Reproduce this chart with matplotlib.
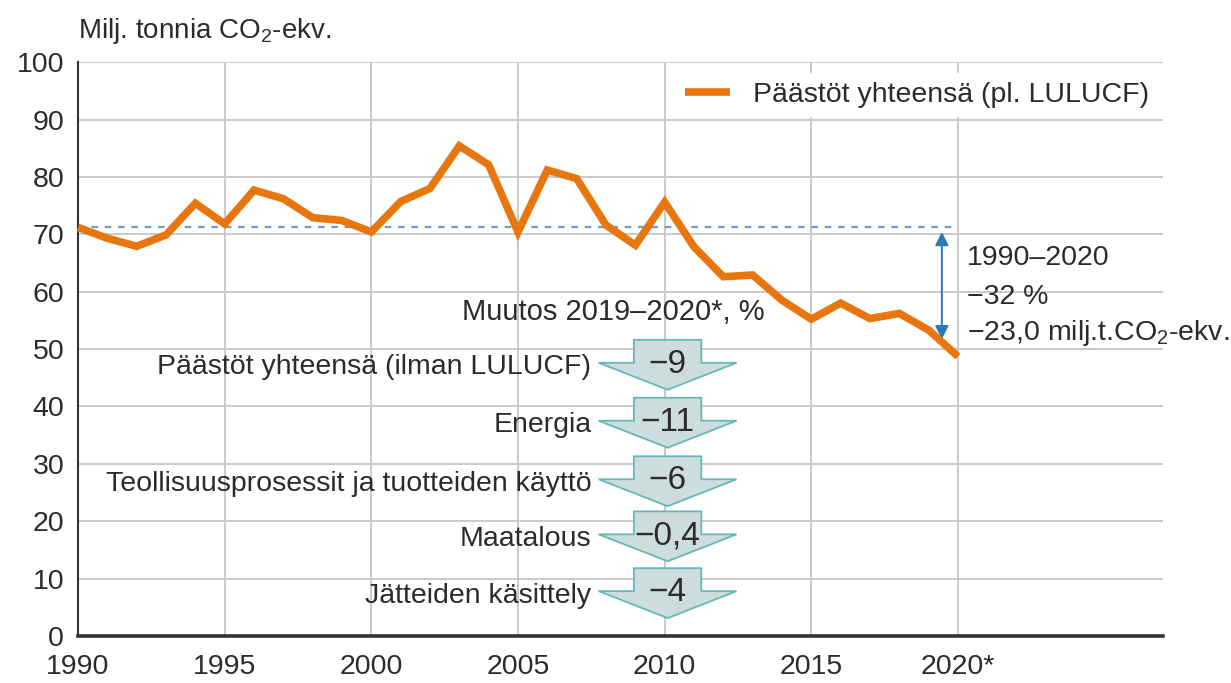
import matplotlib.pyplot as plt
from matplotlib.patches import Polygon

# Päästöt yhteensä (pl. LULUCF), milj. t CO2-ekv.
years = list(range(1990, 2021))
emissions = [71.2, 69.3, 67.9, 69.9, 75.4, 71.8, 77.7, 76.2, 72.9, 72.4,
             70.4, 75.7, 78.0, 85.4, 82.1, 70.4, 81.2, 79.7, 71.6, 68.1,
             75.6, 67.8, 62.6, 62.9, 58.5, 55.2, 58.0, 55.3, 56.2, 53.3,
             48.7]

sectors = ['Päästöt yhteensä (ilman LULUCF)', 'Energia',
           'Teollisuusprosessit ja tuotteiden käyttö', 'Maatalous',
           'Jätteiden käsittely']
changes = ['−9', '−11', '−6', '−0,4', '−4']
sector_y = [46.8, 36.7, 26.5, 16.9, 7.0]

xticks = [1990, 1995, 2000, 2005, 2010, 2015, 2020]
xticklabels = ['1990', '1995', '2000', '2005', '2010', '2015', '2020*']

plt.rcParams['font.family'] = ['Liberation Sans', 'DejaVu Sans']
plt.rcParams['mathtext.fontset'] = 'custom'
plt.rcParams['mathtext.rm'] = 'Liberation Sans'
plt.rcParams['mathtext.default'] = 'regular'
TXT = '#2b2b2b'

fig = plt.figure(figsize=(12.31, 6.83), dpi=100)
ax = fig.add_axes([0.0634, 0.069, 0.8816, 0.840])
ax.set_xlim(1990, 2027)
ax.set_ylim(0, 100)

ax.set_yticks(range(0, 101, 10))
ax.set_xticks(xticks)
ax.set_xticklabels(xticklabels)
ax.tick_params(length=0, labelsize=20.5, labelcolor=TXT, pad=10)
ax.tick_params(axis='x', pad=13)
ax.grid(True, color='#c9c9c9', lw=1.4)
ax.set_axisbelow(True)
for s in ['top', 'right']:
    ax.spines[s].set_visible(False)
ax.spines['left'].set_color('#333333')
ax.spines['left'].set_linewidth(1.5)
ax.spines['bottom'].set_color('#333333')
ax.spines['bottom'].set_linewidth(2.6)

# 1990 level and change arrow
ax.plot([1990, 2020], [emissions[0], emissions[0]], ls=(0, (3, 3)),
        color='#6f9fc8', lw=1.6, zorder=2)
ax.annotate('', xy=(2019.45, emissions[-1] + 3.0), xytext=(2019.45, emissions[0] - 0.8),
            arrowprops=dict(arrowstyle='<|-|>', color='#2a78b8', lw=1.4,
                            mutation_scale=20, shrinkA=0, shrinkB=0))
ax.text(2020.3, 65.9, '1990–2020', fontsize=20.5, color=TXT, va='center')
ax.text(2020.3, 59.0, '−32 %', fontsize=20.5, color=TXT, va='center')
ax.text(2020.3, 52.8, '−23,0 milj.t.CO$_2$-ekv.', fontsize=20.5, color=TXT,
        va='center')

ax.plot(years, emissions, color='#e8760f', lw=5.5, solid_joinstyle='miter',
        solid_capstyle='butt', label='Päästöt yhteensä (pl. LULUCF)',
        zorder=3, clip_on=False)

leg = ax.legend(loc='upper right', bbox_to_anchor=(0.995, 0.981), fontsize=20.5,
                frameon=True, fancybox=False, framealpha=1, edgecolor='white',
                handlelength=1.6, handletextpad=0.8, borderpad=0.3,
                borderaxespad=0)
for t in leg.get_texts():
    t.set_color(TXT)

# sector change arrows
ax.text(2008.25, 56.4, 'Muutos 2019–2020*, %', fontsize=21, color=TXT,
        ha='center', va='center')
cx = 2010.1
for name, val, yc in zip(sectors, changes, sector_y):
    top, sh, tip = yc + 4.8, yc + 0.8, yc - 3.9
    pts = [(cx - 1.15, top), (cx + 1.15, top), (cx + 1.15, sh),
           (cx + 2.35, sh), (cx, tip), (cx - 2.35, sh), (cx - 1.15, sh)]
    ax.add_patch(Polygon(pts, closed=True, facecolor='#cddcdc',
                         edgecolor='#66b8b8', lw=1.3, zorder=4))
    ax.text(cx, yc + 0.5, val, fontsize=24, color=TXT, ha='center',
            va='center', zorder=5)
    ax.text(2007.5, yc, name, fontsize=20.5, color=TXT, ha='right',
            va='center', zorder=5)

fig.text(0.063, 0.955, 'Milj. tonnia CO$_2$-ekv.', fontsize=20, color=TXT,
         va='center')

fig.savefig('out.png', dpi=100)
